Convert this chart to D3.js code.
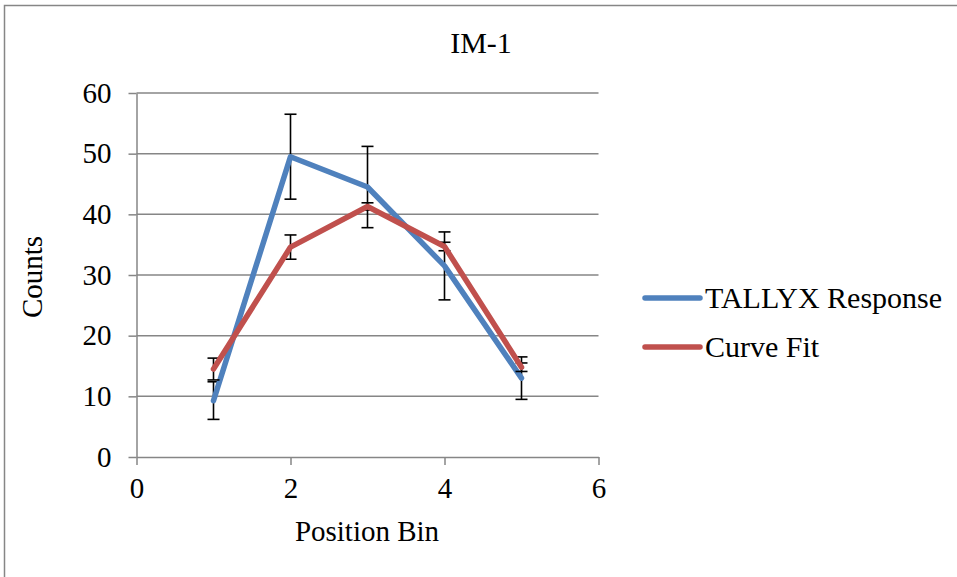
<!DOCTYPE html>
<html>
<head>
<meta charset="utf-8">
<script src="https://cdn.jsdelivr.net/npm/d3@7"></script>
<style>
  body { margin: 0; background: #fff; }
  text { font-family: "Liberation Serif", "Times New Roman", serif; fill: #000; }
</style>
</head>
<body>
<script>
// Data
var positions = [1, 2, 3, 4, 5];
var tallyx = [9.3, 49.5, 44.5, 31.5, 13.0];
var tallyxErr = [3.1, 7.0, 6.7, 5.6, 3.5];
var curveFit = [14.5, 34.6, 41.3, 34.7, 14.8];
var curveFitErr = [1.8, 2.0, 0.6, 0.7, 0.7];
var xTicks = [0, 2, 4, 6];
var yTicks = [0, 10, 20, 30, 40, 50, 60];
var seriesNames = ["TALLYX Response", "Curve Fit"];
var seriesColors = ["#4F81BD", "#C0504D"];

var w = 957, h = 577;

var svg = d3.select("body")
    .append("svg")
    .attr("width", w)
    .attr("height", h);

// Outer chart border
svg.append("rect")
    .attr("x", 4.5)
    .attr("y", 5.5)
    .attr("width", w + 20)
    .attr("height", h + 20)
    .style("fill", "none")
    .style("stroke", "#868686")
    .style("stroke-width", 1.5);

var x = d3.scaleLinear().domain([0, 6]).range([136.5, 598.5]);
var y = d3.scaleLinear().domain([0, 60]).range([457, 93]);

// Horizontal gridlines
svg.selectAll(".grid")
    .data(yTicks.slice(1))
    .enter()
    .append("line")
    .attr("class", "grid")
    .attr("x1", x(0))
    .attr("x2", x(6))
    .attr("y1", function(d){ return y(d); })
    .attr("y2", function(d){ return y(d); })
    .style("stroke", "#868686")
    .style("stroke-width", 1.5);

// Y axis
var yAxis = svg.append("g")
    .attr("class", "yaxis")
    .attr("transform", "translate(" + x(0) + ",0)")
    .call(d3.axisLeft(y).tickValues(yTicks).tickFormat(d3.format("d"))
        .tickSize(8).tickPadding(17).tickSizeOuter(0));

// X axis
var xAxis = svg.append("g")
    .attr("class", "xaxis")
    .attr("transform", "translate(0," + y(0) + ")")
    .call(d3.axisBottom(x).tickValues(xTicks).tickFormat(d3.format("d"))
        .tickSize(8).tickPadding(12).tickSizeOuter(0));

svg.selectAll(".yaxis, .xaxis").attr("font-family", null).attr("font-size", null);
svg.selectAll(".yaxis path, .xaxis path, .yaxis line, .xaxis line")
    .style("stroke", "#868686")
    .style("stroke-width", 1.5);
svg.selectAll(".yaxis text, .xaxis text")
    .style("font-family", "'Liberation Serif', 'Times New Roman', serif")
    .style("font-size", "29px")
    .style("fill", "#000");

// Series with error bars
var allSeries = [
    { values: tallyx, err: tallyxErr },
    { values: curveFit, err: curveFitErr }
];

var line = d3.line()
    .x(function(d){ return x(d[0]); })
    .y(function(d){ return y(d[1]); });

allSeries.forEach(function(s, k){
    var pts = positions.map(function(p, i){ return [p, s.values[i], s.err[i]]; });

    var eb = svg.append("g").attr("class", "errbars");
    eb.selectAll(".stem")
        .data(pts)
        .enter()
        .append("line")
        .attr("x1", function(d){ return x(d[0]); })
        .attr("x2", function(d){ return x(d[0]); })
        .attr("y1", function(d){ return y(d[1] - d[2]); })
        .attr("y2", function(d){ return y(d[1] + d[2]); });
    [-1, 1].forEach(function(sign){
        eb.selectAll(".cap" + sign)
            .data(pts)
            .enter()
            .append("line")
            .attr("x1", function(d){ return x(d[0]) - 6; })
            .attr("x2", function(d){ return x(d[0]) + 6; })
            .attr("y1", function(d){ return y(d[1] + sign * d[2]); })
            .attr("y2", function(d){ return y(d[1] + sign * d[2]); });
    });
    eb.selectAll("line")
        .style("stroke", "#000")
        .style("stroke-width", 1.6);

    svg.append("path")
        .datum(pts)
        .attr("d", line)
        .style("fill", "none")
        .style("stroke", seriesColors[k])
        .style("stroke-width", 5.5)
        .style("stroke-linejoin", "round")
        .style("stroke-linecap", "round");
});

// Title
svg.append("text")
    .attr("x", 481)
    .attr("y", 53)
    .attr("text-anchor", "middle")
    .style("font-size", "30px")
    .text("IM-1");

// Axis titles
svg.append("text")
    .attr("x", 367)
    .attr("y", 541)
    .attr("text-anchor", "middle")
    .style("font-size", "29px")
    .text("Position Bin");

svg.append("text")
    .attr("transform", "translate(42,277) rotate(-90)")
    .attr("text-anchor", "middle")
    .style("font-size", "29px")
    .text("Counts");

// Legend
var legend = svg.selectAll(".legend")
    .data(seriesNames)
    .enter()
    .append("g")
    .attr("class", "legend")
    .attr("transform", function(d, i){ return "translate(645," + (298 + i * 49) + ")"; });

legend.append("line")
    .attr("x1", 0)
    .attr("x2", 55)
    .style("stroke", function(d, i){ return seriesColors[i]; })
    .style("stroke-width", 5.5)
    .style("stroke-linecap", "round");

legend.append("text")
    .attr("x", 60)
    .attr("y", 10)
    .style("font-size", "30px")
    .text(function(d){ return d; });
</script>
</body>
</html>
